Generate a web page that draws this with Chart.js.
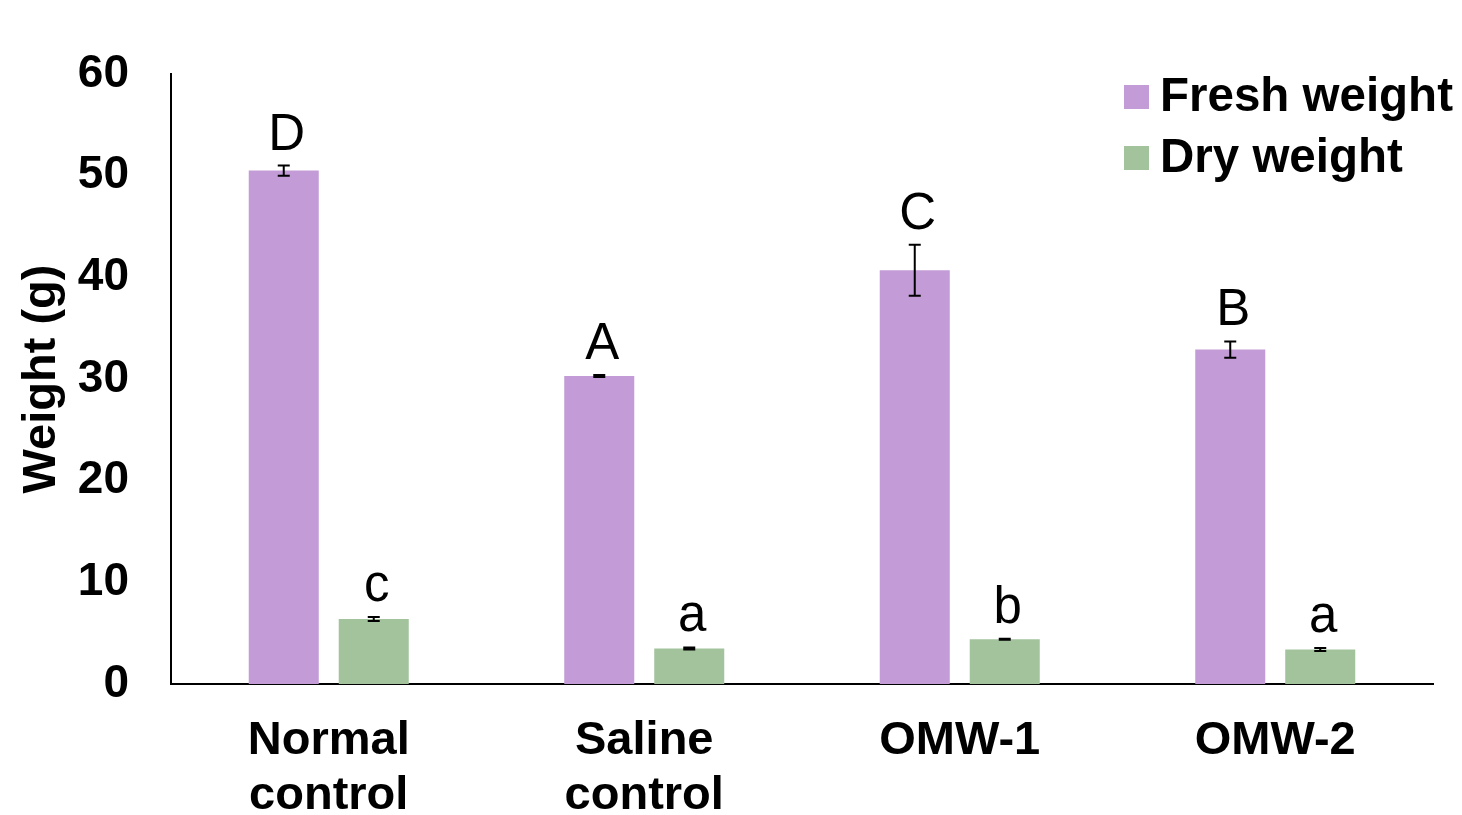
<!DOCTYPE html>
<html>
<head>
<meta charset="utf-8">
<script src="https://cdn.jsdelivr.net/npm/chart.js@4.4.0/dist/chart.umd.min.js"></script>
<style>
  html, body { margin: 0; padding: 0; background: #fff; }
</style>
</head>
<body>
<canvas id="chart" width="1462" height="815"></canvas>
<script>
const categories = [['Normal', 'control'], ['Saline', 'control'], 'OMW-1', 'OMW-2'];
const freshWeight = [50.5, 30.3, 40.7, 32.9];
const freshError = [0.5, 0.1, 2.5, 0.8];
const freshLetters = ['D', 'A', 'C', 'B'];
const dryWeight = [6.4, 3.5, 4.4, 3.4];
const dryError = [0.2, 0.1, 0.05, 0.15];
const dryLetters = ['c', 'a', 'b', 'a'];
const yMin = 0, yMax = 60, yStep = 10;

const FONT = '"Liberation Sans", Arial, sans-serif';

// error bars + significance letters on top of each bar
const errorBars = {
  id: 'errorBars',
  afterDatasetsDraw(chart) {
    const ctx = chart.ctx, y = chart.scales.y;
    chart.data.datasets.forEach((ds, i) => {
      chart.getDatasetMeta(i).data.forEach((bar, j) => {
        const v = ds.data[j], e = ds.errors[j];
        const top = y.getPixelForValue(v + e), bot = y.getPixelForValue(v - e);
        ctx.save();
        ctx.strokeStyle = '#000';
        ctx.lineWidth = 2;
        ctx.beginPath();
        ctx.moveTo(bar.x, top); ctx.lineTo(bar.x, bot);
        ctx.moveTo(bar.x - 6, top); ctx.lineTo(bar.x + 6, top);
        ctx.moveTo(bar.x - 6, bot); ctx.lineTo(bar.x + 6, bot);
        ctx.stroke();
        ctx.fillStyle = '#000';
        ctx.font = '51px ' + FONT;
        ctx.textAlign = 'center';
        ctx.textBaseline = 'alphabetic';
        ctx.fillText(ds.letters[j], bar.x + 3, top - 16);
        ctx.restore();
      });
    });
  }
};

// legend at top right, drawn by hand
const sideLegend = {
  id: 'sideLegend',
  afterDraw(chart) {
    const ctx = chart.ctx;
    ctx.save();
    ctx.font = 'bold 47.5px ' + FONT;
    ctx.textBaseline = 'middle';
    ctx.textAlign = 'left';
    chart.data.datasets.forEach((ds, i) => {
      const cy = 97 + i * 61;
      ctx.fillStyle = ds.backgroundColor;
      ctx.fillRect(1124, cy - 12, 25, 24);
      ctx.fillStyle = '#000';
      ctx.fillText(ds.label, 1160, cy + 1);
    });
    ctx.restore();
  }
};

new Chart(document.getElementById('chart'), {
  type: 'bar',
  data: {
    labels: categories,
    datasets: [{
      label: 'Fresh weight',
      data: freshWeight,
      errors: freshError,
      letters: freshLetters,
      backgroundColor: '#C39BD6'
    }, {
      label: 'Dry weight',
      data: dryWeight,
      errors: dryError,
      letters: dryLetters,
      backgroundColor: '#A2C39C'
    }]
  },
  options: {
    responsive: false,
    animation: false,
    categoryPercentage: 0.5705,
    barPercentage: 0.778,
    layout: { padding: { top: 74, right: 29, left: 0, bottom: 0 } },
    plugins: {
      legend: { display: false },
      tooltip: { enabled: false }
    },
    scales: {
      x: {
        grid: { display: false, drawTicks: false },
        border: { display: true, color: '#000', width: 2 },
        ticks: { color: '#000', padding: 30, font: { family: FONT, size: 47, weight: 'bold', lineHeight: 1.17 } },
        afterFit(scale) { scale.height = 131; }
      },
      y: {
        min: yMin,
        max: yMax,
        grid: { display: false, drawTicks: false },
        border: { display: true, color: '#000', width: 2 },
        ticks: { stepSize: yStep, color: '#000', padding: 42, font: { family: FONT, size: 46, weight: 'bold' } },
        title: {
          display: true,
          text: 'Weight (g)',
          color: '#000',
          padding: { top: 14, bottom: 0 },
          font: { family: FONT, size: 47, weight: 'bold', lineHeight: 1.2 }
        },
        afterFit(scale) { scale.width = 171; }
      }
    }
  },
  plugins: [errorBars, sideLegend]
});
</script>
</body>
</html>
